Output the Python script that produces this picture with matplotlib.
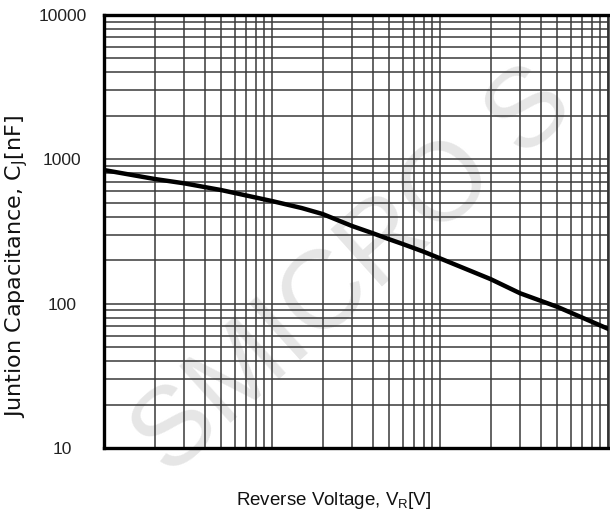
import matplotlib
matplotlib.use("Agg")
import matplotlib.pyplot as plt
from matplotlib.ticker import LogLocator, NullFormatter, FixedLocator, FixedFormatter

# Junction capacitance vs reverse voltage
voltage = [1, 2, 3, 5, 10, 15, 20, 30, 40, 50, 60, 80, 100, 200, 300, 500, 1000]
capacitance = [843, 731, 682, 612, 514, 460, 418, 345, 307, 279, 259, 229, 206,
               148, 118, 95, 67]

y_ticks = [10, 100, 1000, 10000]
y_tick_labels = ["10", "100", "1000", "10000"]

plt.rcParams['font.family'] = ['Liberation Sans', 'DejaVu Sans']

fig = plt.figure(figsize=(6.10, 5.19), dpi=100)
ax = fig.add_axes([0.1705, 0.1368, 0.8262, 0.8343])

# faint watermark behind the grid
ax.text(0.58, 0.475, "SMICRO S", transform=fig.transFigure, fontsize=80,
        color='#e6e6e6', rotation=42, ha='center', va='center',
        zorder=0.2, clip_on=False)

ax.plot(voltage, capacitance, color='black', linewidth=3.2, zorder=3)

ax.set_xscale('log')
ax.set_yscale('log')
ax.set_xlim(1, 1000)
ax.set_ylim(10, 10000)

ax.xaxis.set_major_locator(LogLocator(base=10, numticks=10))
ax.xaxis.set_minor_locator(LogLocator(base=10, subs=range(2, 10), numticks=20))
ax.xaxis.set_major_formatter(NullFormatter())
ax.xaxis.set_minor_formatter(NullFormatter())
ax.yaxis.set_major_locator(FixedLocator(y_ticks))
ax.yaxis.set_major_formatter(FixedFormatter(y_tick_labels))
ax.yaxis.set_minor_locator(LogLocator(base=10, subs=range(2, 10), numticks=20))
ax.yaxis.set_minor_formatter(NullFormatter())

ax.grid(True, which='both', color='#3a3a3a', linewidth=1.3, alpha=0.85)
ax.tick_params(which='both', length=0)
ax.tick_params(axis='y', labelsize=12.5, pad=30, labelcolor='#222222')
for lbl in ax.get_yticklabels():
    lbl.set_horizontalalignment('center')

for side in ['left', 'top', 'bottom']:
    ax.spines[side].set_linewidth(2.4)
    ax.spines[side].set_color('black')
ax.spines['right'].set_linewidth(1.8)
ax.spines['right'].set_color('#333333')

ax.set_xlabel("Reverse Voltage, V$_\\mathregular{R}$[V]", fontsize=13.5,
              color='#111111')
ax.xaxis.set_label_coords(0.456, -0.097)

ax.set_ylabel("Juntion Capacitance, C$_\\mathregular{J}$[nF]", fontsize=16,
              family=['DejaVu Sans'], color='#111111')
ax.yaxis.label.set_va('center')
ax.yaxis.set_label_coords(-0.1726, 0.418)

fig.savefig("out.png", dpi=100)
